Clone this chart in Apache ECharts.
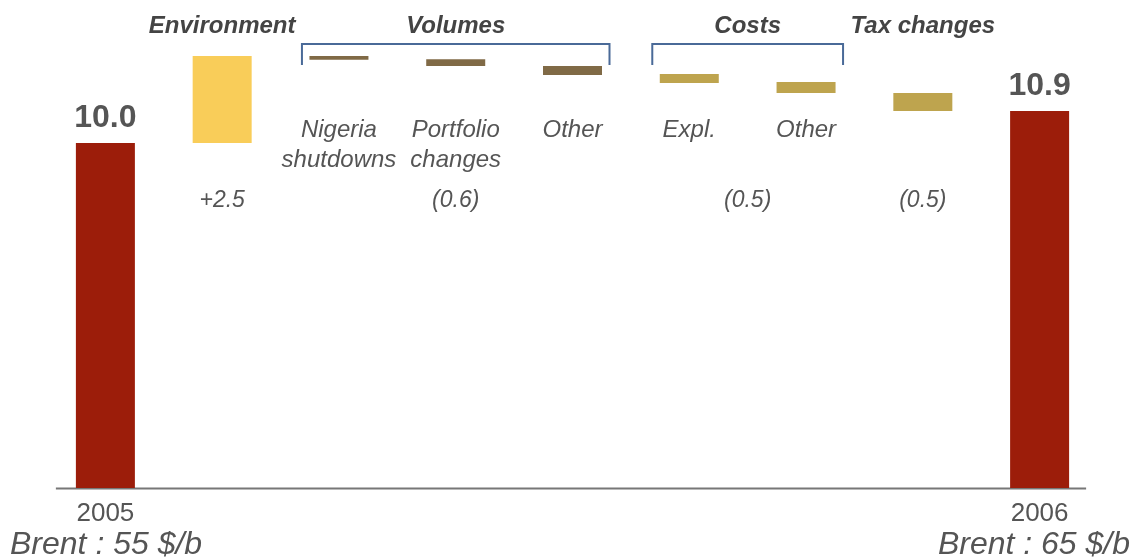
<!DOCTYPE html>
<html>
<head>
<meta charset="utf-8">
<script src="https://cdn.jsdelivr.net/npm/echarts@6/dist/echarts.min.js"></script>
<style>
  html, body { margin: 0; padding: 0; background: #fff; }
  #chart { width: 1135px; height: 557px; }
</style>
</head>
<body>
<div id="chart"></div>
<script>
// waterfall steps, left to right
const categories = ['2005', 'Environment', 'Nigeria shutdowns', 'Portfolio changes', 'Other volumes', 'Expl.', 'Other costs', 'Tax changes', '2006']
const axisLabels = ['2005', '', '', '', '', '', '', '', '2006']
const stepLabels = ['', '', 'Nigeria\nshutdowns', 'Portfolio\nchanges', 'Other', 'Expl.', 'Other', '', '']
const barBase = [0, 10.0, 12.41, 12.23, 11.97, 11.74, 11.45, 10.93, 0]
const barTop = [10.0, 12.52, 12.52, 12.43, 12.23, 12.0, 11.77, 11.45, 10.93]
const totalLabels = ['10.0', '', '', '', '', '', '', '', '10.9']
const barKind = ['total', 'env', 'vol', 'vol', 'vol', 'cost', 'cost', 'tax', 'total']

// group headers over the steps
const groupNames = ['Environment', 'Volumes', 'Costs', 'Tax changes']
const groupFirst = [1, 2, 5, 7]
const groupLast = [1, 4, 6, 7]
const groupDelta = ['+2.5', '(0.6)', '(0.5)', '(0.5)']

const brentLeft = 'Brent : 55 $/b'
const brentRight = 'Brent : 65 $/b'

const colors = {
  total: '#9c1d0a',
  env: '#f9cd59',
  vol: '#806a46',
  cost: '#bea44e',
  tax: '#bea44e'
}
const textGray = '#555'
const bracketBlue = '#4a6a98'
const font = '"Liberation Sans", Arial, sans-serif'

const chart = echarts.init(document.getElementById('chart'))

chart.setOption({
  animation: false,
  grid: { left: 47, right: 37, top: 39.5, bottom: 69 },
  xAxis: {
    type: 'category',
    data: categories,
    axisLine: { show: false },
    axisTick: { show: false },
    axisLabel: {
      formatter: (v, i) => axisLabels[i],
      interval: 0,
      margin: 13,
      fontSize: 26,
      color: textGray,
      fontFamily: font
    }
  },
  yAxis: { type: 'value', min: 0, max: 13, show: false, splitLine: { show: false } },
  series: [
    {
      type: 'bar',
      stack: 'wf',
      silent: true,
      itemStyle: { color: 'transparent' },
      data: barBase
    },
    {
      type: 'bar',
      stack: 'wf',
      barWidth: 59,
      data: barTop.map((t, i) => ({
        value: +(t - barBase[i]).toFixed(3),
        itemStyle: { color: colors[barKind[i]] }
      })),
      label: {
        show: true,
        position: 'top',
        distance: 9,
        formatter: p => totalLabels[p.dataIndex],
        fontSize: 32,
        fontWeight: 'bold',
        color: textGray,
        fontFamily: font
      }
    }
  ]
})

// decorations placed from the category scale
const cx = i => chart.convertToPixel({ xAxisIndex: 0 }, categories[i])
const y0 = chart.convertToPixel({ yAxisIndex: 0 }, 0)
const graphics = []

graphics.push({
  type: 'line',
  shape: { x1: cx(0) - 49.5, y1: y0 + 0.5, x2: cx(8) + 46.5, y2: y0 + 0.5 },
  style: { stroke: '#777', lineWidth: 2 }
})

stepLabels.forEach((s, i) => {
  if (!s) return
  graphics.push({
    type: 'text',
    x: cx(i),
    y: 115,
    style: {
      text: s,
      textAlign: 'center',
      textVerticalAlign: 'top',
      font: 'italic 24px ' + font,
      lineHeight: 30,
      fill: textGray
    }
  })
})

groupNames.forEach((g, k) => {
  const mid = (cx(groupFirst[k]) + cx(groupLast[k])) / 2
  graphics.push({
    type: 'text',
    x: mid,
    y: 26,
    style: {
      text: g,
      textAlign: 'center',
      textVerticalAlign: 'middle',
      font: 'italic bold 24px ' + font,
      fill: '#444'
    }
  })
  graphics.push({
    type: 'text',
    x: mid,
    y: 201,
    style: {
      text: groupDelta[k],
      textAlign: 'center',
      textVerticalAlign: 'middle',
      font: 'italic 23px ' + font,
      fill: textGray
    }
  })
  if (groupFirst[k] !== groupLast[k]) {
    const xa = cx(groupFirst[k]) - 37
    const xb = cx(groupLast[k]) + 37
    graphics.push({
      type: 'polyline',
      shape: { points: [[xa, 65], [xa, 44], [xb, 44], [xb, 65]] },
      style: { stroke: bracketBlue, lineWidth: 2, fill: null }
    })
  }
})

graphics.push({
  type: 'text',
  left: 10,
  top: 529,
  style: { text: brentLeft, font: 'italic 32px ' + font, fill: textGray }
})
graphics.push({
  type: 'text',
  right: 5,
  top: 529,
  style: { text: brentRight, font: 'italic 32px ' + font, fill: textGray }
})

chart.setOption({ graphic: graphics })
</script>
</body>
</html>
